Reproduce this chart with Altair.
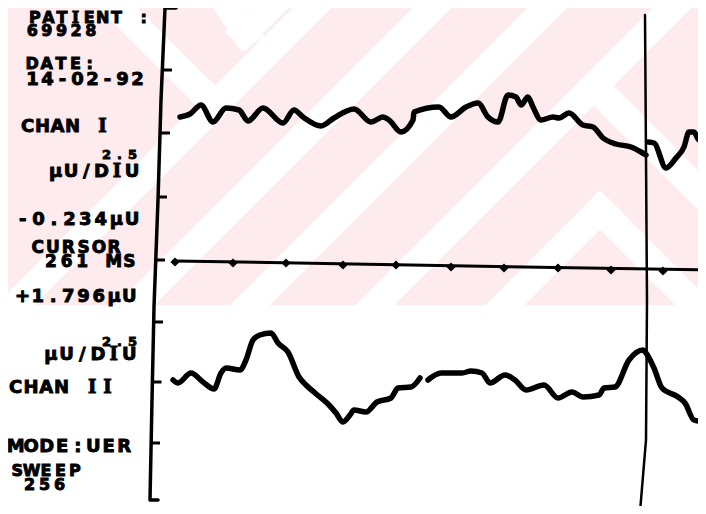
import altair as alt
import pandas as pd

# ---------------- data (screen-grid units) ----------------
# Channel I trace, before and after the cursor step
ch1a_x = [180, 190, 201, 213, 226, 239, 248, 263, 283, 294, 303, 321, 334, 354, 371, 383, 389,
          401, 413, 414, 439, 451, 466, 478, 488, 498, 508, 516, 521, 528, 533, 541, 553, 559,
          569, 583, 593, 603, 616, 631, 641, 646]
ch1a_y = [117, 114, 105, 122, 108, 110, 121, 108, 123, 110, 117, 126, 118, 109, 122, 117, 120,
          132, 120, 112, 107, 117, 107, 103, 117, 122, 95, 97, 105, 97, 107, 120, 117, 118,
          113, 125, 127, 138, 144, 147, 152, 155]
ch1b_x = [648, 654, 666, 676, 684, 689, 694, 699, 706]
ch1b_y = [142, 143, 168, 158, 147, 132, 132, 140, 140]

# Channel II trace (two pieces, small gap in the trace)
ch2a_x = [173, 178, 191, 203, 214, 221, 226, 240, 246, 253, 260, 271, 278, 288, 299, 306, 315,
          329, 336, 343, 350, 354, 366, 377, 391, 398, 411, 420]
ch2a_y = [380, 383, 373, 382, 389, 373, 368, 370, 360, 340, 335, 333, 343, 352, 377, 385, 393,
          405, 413, 422, 415, 410, 412, 402, 398, 388, 387, 378]
ch2b_x = [428, 441, 462, 471, 482, 490, 505, 515, 526, 544, 558, 572, 583, 599, 604, 615, 629,
          643, 646, 654, 662, 678, 685, 694, 706]
ch2b_y = [380, 373, 373, 371, 373, 383, 375, 380, 390, 385, 398, 392, 397, 395, 388, 387, 360,
          350, 353, 368, 388, 397, 403, 420, 422]

# horizontal cursor (time) line and its marker dots
hline_x = [175, 706]
hline_y = [261, 270]
dots_x = [175, 233, 286, 343, 396, 451, 504, 558, 611, 663]
dots_y = [262, 263, 263, 265, 265, 267, 268, 268, 270, 271]

# vertical cursor line
vcur_x = [645, 647, 646, 640]
vcur_y = [15, 300, 440, 512]

# scale bar (left bracket) and its division ticks
axis_x = [176, 165, 161, 158, 154, 152, 150, 158]
axis_y = [8, 8, 100, 200, 307, 400, 500, 500]
tick_y = [70, 133, 197, 260, 322, 382, 443]
tick_x = [163, 161, 158, 156, 154, 152.5, 151]

# label texts (printer font: fixed character pitch)
labels = ["PATIENT :", "69928", "DATE:", "14-02-92", "CHAN I", "2.5", "µU/DIU",
          "-0.234µU", "CURSOR", "261 MS", "+1.796µU", "2.5", "µU/DIU",
          "CHAN II", "MODE:UER", "SWEEP", "256"]
label_x = [28, 25, 25, 25, 20, 100, 48, 15, 30, 43, 15, 100, 43, 8, 8, 10, 22]
label_y = [18, 31, 64, 80, 127, 155, 172, 220, 248, 262, 297, 342, 355, 388, 447, 471, 485]
label_size = [16, 16, 16, 18, 18, 13, 18, 18, 17, 17, 18, 13, 18, 18, 18, 16, 16]
label_pitch = [13.6, 14.6, 14.4, 15, 15, 13, 15.3, 15.6, 15.3, 15.7, 15.25, 13, 15.7, 15.3,
               15.5, 14.4, 15]

# paper watermark: pink band with white diagonal stripes (segment end points)
band = {"x0": [0], "x1": [706], "y0": [0], "y1": [305]}
stripe_x0 = [-10, 110, 225, 350, 90, 213, 245, 594, 600, 600]
stripe_y0 = [330, 330, 330, 330, -20, -20, 32, 86, 210, 210]
stripe_x1 = [340, 460, 575, 700, 215, 245, 297, 726, 475, 725]
stripe_y1 = [-20, -20, -20, -20, 105, 32, -20, 218, 335, 335]

# ---------------- build tables ----------------
def path(xs, ys, seg):
    return pd.DataFrame({"x": xs, "y": ys, "seg": seg, "i": list(range(len(xs)))})

traces = pd.concat([path(ch1a_x, ch1a_y, "c1a"), path(ch1b_x, ch1b_y, "c1b"),
                    path(ch2a_x, ch2a_y, "c2a"), path(ch2b_x, ch2b_y, "c2b")])
stripes = pd.concat([path([a, b], [c, d], f"s{k}") for k, (a, c, b, d) in
                     enumerate(zip(stripe_x0, stripe_y0, stripe_x1, stripe_y1))])
axis_df = path(axis_x, axis_y, "ax")
vcur_df = path(vcur_x, vcur_y, "vc")
hline_df = path(hline_x, hline_y, "hl")
dots_df = pd.DataFrame({"x": dots_x, "y": dots_y})
ticks_df = pd.DataFrame({"x": tick_x, "x2": [v + 9 for v in tick_x], "y": tick_y})
band_df = pd.DataFrame(band)

rows = []
for t, lx, ly, s, p in zip(labels, label_x, label_y, label_size, label_pitch):
    for k, ch in enumerate(t):
        if ch != " ":
            rows.append({"c": ch, "x": lx + p * (k + 0.5), "y": ly, "s": s,
                         "serif": ch == "I"})
text_df = pd.DataFrame(rows)

xs = alt.Scale(domain=[8, 698], nice=False, zero=False)
ys = alt.Scale(domain=[8, 506], nice=False, zero=False, reverse=True)
X = lambda f="x": alt.X(f"{f}:Q", scale=xs, axis=None)
Y = lambda f="y": alt.Y(f"{f}:Q", scale=ys, axis=None)

pink = alt.Chart(band_df).mark_rect(color="#fdebee", clip=True).encode(
    x=X("x0"), x2="x1", y=Y("y0"), y2="y1")

stripe_layer = alt.Chart(stripes).mark_line(color="white", strokeWidth=28, strokeCap="square",
                                            clip=True).encode(
    x=X(), y=Y(), detail="seg:N", order="i:Q")

def line(df, w):
    return alt.Chart(df).mark_line(color="black", strokeWidth=w, strokeJoin="round",
                                   strokeCap="round", clip=True).encode(
        x=X(), y=Y(), detail="seg:N", order="i:Q")

trace_layer = alt.Chart(traces).mark_line(color="black", strokeWidth=5.5, strokeJoin="round",
                                          strokeCap="round", interpolate="monotone",
                                          clip=True).encode(
    x=X(), y=Y(), detail="seg:N", order="i:Q")

ticks = alt.Chart(ticks_df).mark_rule(color="black", strokeWidth=3).encode(
    x=X(), x2="x2", y=Y())

dots = alt.Chart(dots_df).mark_point(shape="diamond", filled=True, color="black",
                                     size=85, opacity=1, clip=True).encode(x=X(), y=Y())

base_text = alt.Chart(text_df).encode(
    x=X(), y=Y(), text="c:N", size=alt.Size("s:Q", scale=None, legend=None))
text_sans = base_text.transform_filter("!datum.serif").mark_text(
    align="center", baseline="middle", font="DejaVu Sans", fontWeight="bold",
    color="black", stroke="black", strokeWidth=0.9)
text_serif = base_text.transform_filter("datum.serif").mark_text(
    align="center", baseline="middle", font="DejaVu Serif", fontWeight="bold",
    color="black", stroke="black", strokeWidth=0.9)

chart = alt.layer(
    pink, stripe_layer, line(axis_df, 3.5), ticks, line(hline_df, 3), dots,
    line(vcur_df, 2.5), trace_layer, text_sans, text_serif
).properties(
    width=690, height=498, autosize=alt.AutoSizeParams(type="none"), padding=0,
    background="white"
).configure_view(stroke=None)

chart.save("out.html", embed_options={"renderer": "svg", "actions": False})
